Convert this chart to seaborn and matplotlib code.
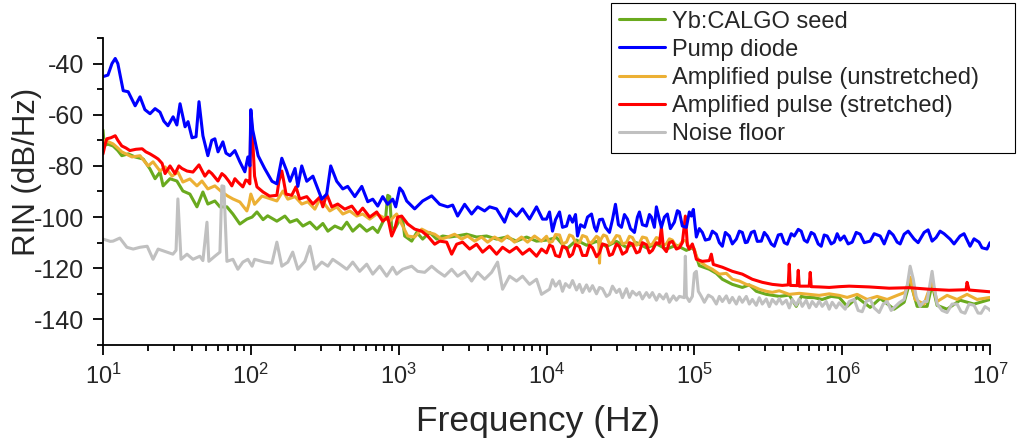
import numpy as np
import pandas as pd
import matplotlib
matplotlib.use("Agg")
import matplotlib.pyplot as plt
import matplotlib.ticker as mticker
import seaborn as sns

# ==========================
# Data
# ==========================

seed_f = [10, 10.2, 10.8, 11.7, 12.6, 13.4, 14.8, 16.5, 18.7, 20.8, 22.5, 24.3, 25.5, 28.4,
          31.6, 34.7, 38.7, 43.2, 47.4, 51.2, 57.1, 61.8, 68.9, 75.6, 84.3, 94.0,
          102, 110, 121, 130, 150, 170, 184, 205, 225, 251, 279, 307, 332, 370, 412, 446,
          489, 545, 608, 668, 722, 780, 817, 843, 870, 897, 955,
          1016, 1064, 1098, 1225, 1324, 1453, 1621, 1808, 1985, 2213, 2467, 2882, 3367,
          3934, 4595, 5369, 6272, 7328, 8561,
          10000, 11690, 13660, 15960, 18650, 21790, 25450, 29730, 34740, 40580, 47410,
          55380, 64700, 75590, 88310, 96950,
          100000, 108100, 126300, 140900, 154700, 180800, 211200, 235500, 262500, 306700,
          375500, 438600, 489000, 528600, 571300, 647000, 732800, 842900, 954500,
          1.081e6, 1.263e6, 1.547e6, 1.808e6, 2.247e6, 2.625e6, 2.882e6, 3.214e6, 3.755e6,
          4.058e6, 4.386e6, 5.124e6, 6.272e6, 7.798e6, 1e7]
seed_db = [-66, -72, -71.5, -72.2, -74, -76, -75.3, -76.5, -77.3, -81.2, -85, -82.4, -87.8, -85,
           -85.9, -89.8, -91, -96, -90.2, -94.9, -93.7, -96, -96, -98.8, -102.7, -100.8,
           -100, -98, -101, -99.5, -101.6, -99.6, -102, -101, -103.5, -102, -104.7, -102.5,
           -105.5, -103.5, -104.7, -102, -105.5, -103, -105.5, -104, -106, -102, -100, -91.5,
           -92, -104.7, -104,
           -101, -100.8, -107.4, -109.4, -106, -108.6, -106, -108.6, -107.4, -107.8, -107.4,
           -106.7, -107.8, -107.4, -108.6, -107.8, -109.4, -107.8, -109.4,
           -109, -108, -112.5, -109, -111, -109.5, -111.5, -109.5, -111.8, -110, -112,
           -110.5, -112.5, -111, -113, -112,
           -113, -119, -120.4, -122, -124.3, -126.3, -127.5, -126.5, -129, -130.2,
           -131, -130.5, -134.9, -131, -131.4, -131.5, -132.2, -131, -131.4,
           -134.9, -131.4, -135.3, -131.8, -136, -133.3, -125, -134.9, -134.9,
           -126.3, -134.5, -136, -132.5, -134, -132.2]

pump_f = [10, 10.8, 11.5, 12.1, 12.6, 13.7, 14.8, 15.7, 16.5, 17.8, 19.2, 20.8, 22.5, 24.3,
          25.8, 27.5, 29.8, 31.6, 33.2, 35.9, 37.6, 40.0, 42.6, 44.6, 47.4, 51.2, 54.4,
          57.1, 60.0, 64.7, 67.9, 72.2, 78.0, 84.3, 91.1, 95.5, 98.5,
          100, 103, 112, 124, 139, 150, 162, 175, 184, 199, 208, 221, 239, 263, 284, 302,
          326, 347, 381, 419, 452, 505, 563, 618, 668, 722, 780, 843, 911, 955,
          1016, 1064, 1133, 1283, 1453, 1672, 1894, 2145, 2318, 2505, 2794, 3115, 3420,
          3813, 4121, 4595, 5204, 5625, 6272, 6886, 7678, 8561, 9398,
          10000, 10480, 10980, 11510, 12250, 12830, 13660, 14310, 15000, 15710, 16210,
          16990, 18080, 18940, 20160, 21120, 21790, 22830, 23910, 25050, 26660, 27940,
          29270, 30670, 32140, 33670, 35280, 36970, 39340, 41210, 42520, 44550, 47410,
          49670, 51240, 53690, 55380, 58030, 59860, 62720, 65720, 68860, 73280, 76780,
          79200, 82990, 88310, 92530, 95450, 98470,
          103200, 108100, 113300, 118700, 126300, 132400, 140900, 147600, 154700, 162100,
          172500, 180800, 192400, 201600, 211200, 221300, 228300, 242900, 254500, 266600,
          283800, 297300, 311500, 331500, 347400, 369700, 387300, 405800, 425200, 452400,
          474100, 504500, 528600, 553800, 580300, 617500, 647000, 688600, 721500, 755900,
          792000, 842900, 883100, 925300, 969500,
          1.032e6, 1.098e6, 1.169e6, 1.244e6, 1.324e6, 1.409e6, 1.547e6, 1.646e6, 1.808e6,
          1.924e6, 2.079e6, 2.213e6, 2.355e6, 2.467e6, 2.625e6, 2.794e6, 3.067e6, 3.264e6,
          3.583e6, 3.813e6, 4.058e6, 4.318e6, 4.595e6, 4.890e6, 5.369e6, 5.713e6, 6.272e6,
          6.675e6, 7.328e6, 7.798e6, 8.429e6, 8.831e6, 9.545e6, 1e7]
pump_db = [-45.1, -44.5, -40, -38, -40, -50.6, -51, -54, -56.5, -53, -58, -59.6, -57.6, -59,
           -62.5, -64.3, -60.8, -64, -55.7, -64.7, -62.7, -69, -68.6, -54.9, -68.2, -76, -70,
           -69.4, -74.5, -70.6, -75, -76, -74, -78.4, -82.3, -76.5, -80,
           -58, -66, -76, -81, -86, -87, -77, -82, -86, -81, -88, -80, -86, -84, -89, -93,
           -91, -80, -86, -89, -88, -92, -88, -94, -93, -95.7, -92, -95, -93, -96,
           -88.6, -90, -93.7, -96.8, -93.7, -91.7, -95, -96, -95.3, -99.6, -95, -98.8, -96,
           -97.6, -96, -96.8, -102, -96.8, -99.6, -96.8, -100.8, -96, -100.8,
           -100.8, -98, -105.5, -101, -98, -104, -103.5, -99.5, -102, -99, -107.4,
           -103, -104, -100, -98.8, -104, -105.5, -101, -100.8, -104, -106, -101,
           -95, -103, -104, -99, -100.8, -104.5, -106, -100, -98, -103, -103.5,
           -99, -100, -104, -96, -101, -104, -100, -98.8, -104.5, -102, -97.5,
           -98, -103.5, -104, -98, -99.6, -97,
           -107.8, -104.5, -106, -109, -108.6, -105.5, -106.7, -110, -111.4, -106,
           -107.4, -110.5, -108.6, -105.5, -106, -110, -109.8, -106, -105.5, -109.5,
           -109.4, -106, -107.4, -110.5, -111.4, -107, -106.7, -110, -110.6, -106.5,
           -107.4, -104.8, -105.5, -109, -109.8, -106, -106.7, -110.5, -111.4, -107,
           -107.4, -110.5, -109.8, -106.5, -109,
           -107.4, -110.5, -109.8, -106, -106.7, -110, -109.4, -106.5, -107.4,
           -110.5, -105.5, -107, -109.8, -110.5, -106.7, -105.5, -108.6, -110,
           -106, -105, -109.4, -108, -105.5, -106.5, -108.6, -110.5, -107.4,
           -106.5, -111.4, -108.5, -109.8, -112, -112.5, -110]

unstr_f = [10, 10.8, 11.7, 12.6, 13.4, 14.5, 15.7, 17.8, 20.2, 21.8, 24.3, 26.3, 29.3, 32.1,
           34.7, 38.7, 43.2, 46.7, 51.2, 57.1, 63.7, 69.9, 75.6, 84.3, 94.0, 97.0,
           100, 106, 119, 130, 150, 165, 178, 199, 221, 243, 271, 293, 316, 342, 381, 419,
           467, 520, 571, 637, 710, 780, 870, 940, 969,
           1064, 1151, 1283, 1431, 1571, 1752, 1954, 2145, 2391, 2666, 2927, 3264, 3640,
           3995, 4455, 4967, 5453, 6080, 6779, 7443, 8299, 9253,
           10000, 10480, 10980, 11510, 12250, 12830, 13660, 14310, 15000, 15960, 16720,
           17520, 18650, 19540, 20470, 21790, 22470, 22830, 23180, 24290, 25450, 26660,
           27940, 29730, 31150, 32640, 34740, 36400, 38130, 40580, 42520, 44550, 47410,
           49670, 52040, 55380, 58030, 61750, 64700, 67790, 71030, 75590, 79200, 84290,
           88310, 92530, 96950,
           100000, 103200, 108100, 120600, 132400, 147600, 164600, 180800, 201600, 224700,
           246700, 275100, 306700, 336700, 375500, 438600, 512400, 598600, 699400, 817100,
           954500,
           1.081e6, 1.263e6, 1.476e6, 1.725e6, 2.016e6, 2.355e6, 2.666e6, 2.882e6, 3.115e6,
           3.583e6, 4.058e6, 4.386e6, 5.124e6, 5.986e6, 6.994e6, 8.171e6, 1e7]
unstr_db = [-70, -70.5, -71.4, -73, -74.5, -75.5, -76.5, -76, -80, -78.4, -82, -80.4, -84,
            -82.4, -86.3, -85.1, -87.8, -85.9, -89, -87.8, -90.2, -91.8, -92.9, -94.1, -97.6,
            -95,
            -91, -95, -91.8, -92.5, -93.7, -89.8, -93, -92, -94.9, -94, -96.9, -93, -94.9,
            -97.6, -96, -98.8, -97.6, -99.6, -98.8, -100.8, -98.8, -100, -101.6, -99.5, -98.8,
            -103.5, -107.4, -107.8, -104.7, -105.9, -106.7, -108.6, -107.8, -106.7, -108.6,
            -107.4, -109.4, -107.8, -109.8, -107.8, -109.4, -107.4, -109.8, -107.8, -109.8,
            -107.4, -109.4,
            -107.5, -110, -109.5, -106.8, -107, -110.5, -109.8, -107, -107.5, -110.5, -110,
            -107.2, -107.8, -110.5, -109.5, -107.5, -108, -118, -109, -107, -107.5, -110.5,
            -109.8, -107.2, -107.5, -110.5, -110, -107.5, -108, -111, -110.2, -107.8, -108.2,
            -111, -110.5, -108, -108.5, -111, -110.5, -108.5, -109, -111.5, -111, -109,
            -109.5, -112, -111.5,
            -112.5, -115.3, -117.3, -119.2, -120.4, -122.3, -122, -124.3, -125, -126.3,
            -127, -128.2, -129, -129.4, -128.8, -130.2, -129.8, -130.2, -130.6, -130,
            -130.6,
            -131.4, -130.2, -132.2, -131, -132.2, -130.6, -129.4, -123.5, -132.2,
            -134, -125, -133, -130.6, -132.2, -130.2, -132.2, -131.4]

str_f = [10, 10.3, 10.6, 11.3, 12.1, 12.6, 13.4, 14.3, 15.2, 16.7, 18.4, 19.5, 20.8, 22.5,
         23.6, 25.1, 26.3, 28.4, 30.7, 32.6, 34.2, 37.0, 40.6, 44.6, 48.9, 52.0, 54.5, 59.9,
         63.7, 66.8, 71.0, 74.4, 78.0, 81.7, 88.3, 92.5, 95.5, 98.5,
         100, 103, 106, 110, 121, 134, 150, 155, 162, 167, 173, 189, 202, 214, 239, 263,
         293, 307, 326, 353, 387, 432, 482, 529, 571, 637, 710, 780, 843, 897, 940, 985,
         1048, 1151, 1283, 1431, 1571, 1752, 1894, 2112, 2283, 2467, 2708, 3020, 3367,
         3697, 4121, 4595, 5045, 5625, 6272, 6886, 7678, 8561, 9253,
         10000, 10480, 10980, 11510, 12250, 12830, 13660, 14310, 15000, 15710, 16720,
         17520, 18650, 19540, 20470, 21790, 22830, 23910, 25450, 26660, 27940, 29730,
         31150, 32640, 34740, 36400, 38130, 40580, 42520, 44550, 47410, 49670, 52040,
         55380, 58030, 59860, 61750, 64700, 67790, 71030, 75590, 79200, 82990, 86950,
         89690, 92530, 96950,
         100000, 103200, 113300, 126300, 130300, 134400, 154700, 180800, 211200, 246700,
         288200, 336700, 393400, 431800, 438600, 445500, 496700, 504500, 512400, 598600,
         608000, 617500, 699400, 817100, 954500,
         1.115e6, 1.523e6, 2.079e6, 2.838e6, 3.873e6, 5.286e6, 6.886e6, 6.994e6, 7.215e6,
         1e7]
str_db = [-75.3, -72, -69.4, -69, -68.2, -70, -72.2, -73, -74, -73.5, -73.3, -74.5, -75.3,
          -76.5, -77.3, -79, -83, -80, -83, -80, -81, -82, -82.4, -79.6, -84, -82, -83,
          -85.9, -83, -84, -86, -87.8, -85, -86.3, -88.2, -85.5, -85.9, -87,
          -59.5, -70, -84, -88.2, -90.2, -91.8, -91.5, -86, -82, -86, -91, -91.5, -88.2,
          -92.9, -92, -94.9, -92.2, -96, -91, -96, -94.9, -96.9, -95.7, -98.8, -96.5, -100,
          -98, -101.6, -100, -107.4, -104.7, -100,
          -99.6, -102.7, -104.7, -105.5, -107.4, -110.6, -109.4, -109.8, -114.5, -110.6,
          -109.8, -112.5, -110.6, -113.7, -111.4, -114.5, -111.8, -113.7, -111.8, -114.5,
          -112.5, -115.3, -112.5,
          -114, -111, -111.5, -115, -115.5, -111.5, -112, -115.5, -114.5, -110.8, -111.5,
          -115, -115, -111, -112, -115.5, -114, -110.5, -111, -115, -114.5, -110.5,
          -111.5, -114.5, -113.5, -110, -110.5, -114, -113.5, -110, -110.8, -114, -113,
          -110, -110.5, -104, -112, -113.5, -110, -109.5, -112.5, -112, -110, -99.6,
          -111, -112.5, -110.5,
          -113, -116.5, -117.3, -117, -114.5, -118.5, -119.6, -121.2, -122.3, -124.3,
          -125.5, -126.3, -126.7, -126.5, -118.4, -126.7, -126.8, -120.8, -127, -127,
          -121.6, -127.2, -127.3, -127.5, -127.2,
          -127, -127.3, -127.8, -127.6, -128.2, -128.6, -128.4, -125.5, -128.5,
          -129.2]

floor_f = [10, 11.2, 11.7, 13.0, 14.5, 16.0, 17.8, 19.9, 21.8, 23.6, 27.1, 29.7, 31.2, 32.1,
           33.7, 37.0, 40.6, 45.2, 47.4, 50.5, 52.0, 57.1, 61.8, 63.7, 65.7, 68.9, 75.6,
           81.7, 88.3, 95.5,
           102, 106, 124, 139, 150, 162, 178, 192, 208, 232, 251, 271, 302, 332, 358, 400,
           446, 489, 545, 608, 668, 744, 830, 911, 969,
           1064, 1225, 1344, 1500, 1672, 1836, 2047, 2283, 2505, 2794, 3115, 3420, 3813,
           4252, 4667, 5045, 5625, 6272, 6886, 7678, 8561, 9253,
           10480, 10980, 11510, 12250, 12830, 13440, 14310, 15000, 15960, 16720, 17520,
           18650, 19540, 20470, 21790, 22830, 23910, 25450, 26660, 27940, 29730, 31150,
           32640, 34740, 36400, 38130, 40580, 42520, 44550, 47410, 49670, 52040, 55380,
           58030, 61750, 64700, 67790, 72150, 75590, 79200, 85610, 86950, 88310, 92530,
           96950,
           100000, 103200, 106400, 111500, 116900, 124400, 132400, 140900, 147600, 154700,
           164600, 172500, 180800, 192400, 201600, 211200, 224700, 235500, 246700, 262500,
           275100, 288200, 306700, 321400, 336700, 358300, 375500, 393400, 418600, 438600,
           459500, 489000, 512400, 536900, 571300, 598600, 627200, 667500, 699400, 732800,
           779800, 817100, 856100, 911000, 954500,
           1.048e6, 1.115e6, 1.206e6, 1.283e6, 1.366e6, 1.453e6, 1.547e6, 1.646e6, 1.780e6,
           1.894e6, 2.016e6, 2.145e6, 2.283e6, 2.429e6, 2.625e6, 2.751e6, 2.882e6, 3.020e6,
           3.164e6, 3.367e6, 3.583e6, 3.755e6, 3.934e6, 4.058e6, 4.186e6, 4.386e6, 4.741e6,
           5.124e6, 5.538e6, 5.986e6, 6.370e6, 6.779e6, 7.215e6, 7.798e6, 8.299e6, 8.695e6,
           9.253e6, 9.847e6, 1e7]
floor_db = [-108.6, -109.5, -109.4, -108.2, -111.8, -112.5, -111.8, -111.4, -116.5, -112.5,
            -113.7, -114.5, -113, -92.9, -116.5, -114.5, -116.5, -115.3, -117, -102,
            -117.3, -115.3, -113.7, -87.8, -88, -117.3, -116.5, -120.4, -117.6, -116.5,
            -119.2, -116.5, -117.6, -118, -109.8, -119.2, -117.6, -113.7, -120.4, -117.3,
            -111.4, -120.4, -117.6, -119.2, -116.5, -118.4, -120.4, -117.6, -121.2, -118.4,
            -122.3, -119.2, -123.1, -119.6, -122.3,
            -120.4, -119.2, -121.2, -121.6, -119.2, -121.2, -123.1, -120.4, -123.1, -121.2,
            -125, -121.6, -124.3, -121.6, -117.6, -128.2, -123.1, -125, -123.1, -126.3,
            -124.3, -130.2,
            -128.2, -124.5, -127, -125, -129, -126, -127.5, -124.8, -128.5, -126.3, -129.5,
            -126.5, -129, -126.8, -130, -127.5, -128, -131, -130.2, -127, -129.5, -128.2,
            -131.5, -128, -131.4, -129, -130.5, -129.4, -132, -129.5, -131.4, -129.5, -132.5,
            -130.2, -132, -130, -133.3, -130.8, -132.5, -131, -131.5, -115.3, -131, -133,
            -131,
            -122, -121.2, -129, -131, -133.3, -130.5, -131.4, -134, -131, -133,
            -130.8, -133.5, -131.4, -134, -131.2, -133.3, -131, -134, -132.2, -134.5,
            -131.5, -134, -132, -135, -132.2, -134, -131.8, -134, -132.5, -135.5,
            -132.2, -134.5, -132, -134.9, -132.5, -135.5, -133, -135, -132.8, -134.9,
            -133, -136, -133.3, -135.5, -133.5,
            -136, -133, -132.2, -136.5, -137, -133, -132.2, -135.5, -137.3,
            -134, -133, -136.5, -135, -133.5, -132.2, -127, -119.2, -124,
            -131, -134.9, -133, -133, -126, -121.2, -127, -134, -136.5,
            -137.3, -134, -134, -137, -137.6, -134, -134.5, -137.5, -137.6,
            -135, -136, -136.5]

x_ticks = [1e1, 1e2, 1e3, 1e4, 1e5, 1e6, 1e7]
y_ticks = [-40, -60, -80, -100, -120, -140]

labels = ["Yb:CALGO seed", "Pump diode", "Amplified pulse (unstretched)",
          "Amplified pulse (stretched)", "Noise floor"]
colors = ["#6aaa1e", "#0000ff", "#ecb034", "#ff0000", "#c0c0c0"]

# ==========================
# Plot
# ==========================

sns.set_style("ticks")
plt.rcParams["font.family"] = ["Liberation Sans", "DejaVu Sans"]
plt.rcParams["axes.unicode_minus"] = False
plt.rcParams["axes.linewidth"] = 1.3
plt.rcParams["axes.edgecolor"] = "black"

fig = plt.figure(figsize=(10.17, 4.42), dpi=100)
ax = fig.add_axes([103 / 1017, 97 / 442, 887 / 1017, 307 / 442])

series = [(seed_f, seed_db), (pump_f, pump_db), (unstr_f, unstr_db),
          (str_f, str_db), (floor_f, floor_db)]
draw_order = [0, 2, 4, 3, 1]
lines = {}
for i in draw_order:
    f, db = series[i]
    df = pd.DataFrame({"freq": f, "rin": db})
    sns.lineplot(data=df, x="freq", y="rin", ax=ax, color=colors[i], linewidth=2.2,
                 estimator=None, sort=False, label=labels[i])
    lines[i] = ax.lines[-1]

ax.set_xscale("log")
ax.set_xlim(10, 1e7)
ax.set_ylim(-150, -30)
ax.set_yticks(y_ticks)
ax.yaxis.set_minor_locator(mticker.MultipleLocator(10))
ax.xaxis.set_major_locator(mticker.FixedLocator(x_ticks))
ax.xaxis.set_major_formatter(mticker.LogFormatterSciNotation())
ax.xaxis.set_minor_locator(mticker.LogLocator(base=10, subs=np.arange(2, 10), numticks=20))
ax.xaxis.set_minor_formatter(mticker.NullFormatter())

ax.tick_params(axis="both", which="major", direction="out", length=7.5, width=1.3,
               pad=6, color="black")
ax.tick_params(axis="y", which="major", labelsize=18)
ax.tick_params(axis="x", which="major", labelsize=17)
ax.tick_params(axis="both", which="minor", direction="out", length=4.5, width=1.3,
               color="black")
sns.despine(ax=ax)

ax.set_xlabel("Frequency (Hz)", fontsize=25.5)
ax.xaxis.set_label_coords(0.49, -0.196)
ax.set_ylabel("RIN (dB/Hz)", fontsize=22.5)
ax.yaxis.set_label_coords(-0.0688, 0.5635)

ax.get_legend().remove()
handles = [lines[i] for i in range(5)]
leg = fig.legend(handles, labels, loc="upper left",
                 bbox_to_anchor=(611 / 1017, 294 / 442, 404 / 1017, 145 / 442),
                 bbox_transform=fig.transFigure, mode="expand",
                 fontsize=17, frameon=True, fancybox=False, edgecolor="black",
                 framealpha=1, borderpad=0.32, borderaxespad=0, labelspacing=0.26,
                 handlelength=1.95, handletextpad=0.3)
leg.get_frame().set_linewidth(0.8)

fig.savefig("out.png", dpi=100)
